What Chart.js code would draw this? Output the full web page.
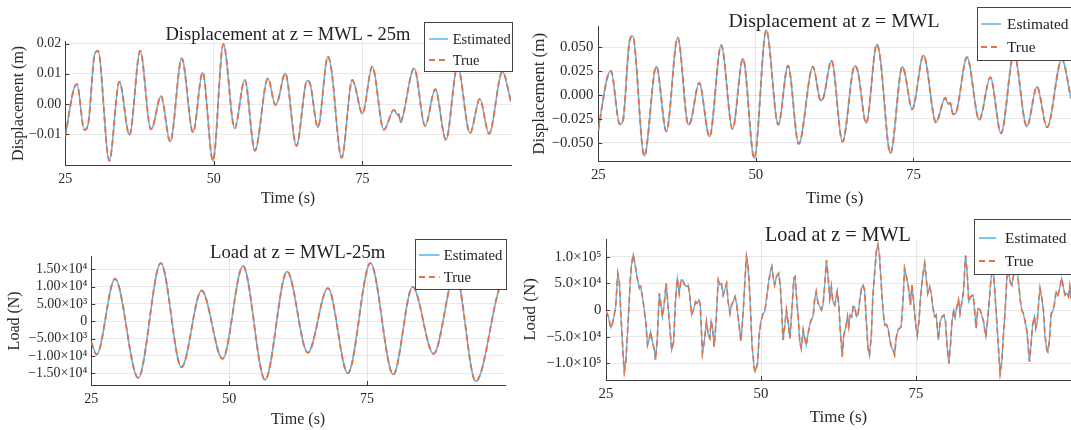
<!DOCTYPE html>
<html><head><meta charset="utf-8">
<script src="https://cdn.jsdelivr.net/npm/chart.js@4.4.1/dist/chart.umd.min.js"></script>
<style>
html,body{margin:0;padding:0;background:#fff;}
body{width:1071px;height:430px;position:relative;overflow:hidden;font-family:"Liberation Serif","DejaVu Serif",serif;}
canvas{position:absolute;}
.title{position:absolute;transform:translate(-50%,-50%);white-space:nowrap;color:#222;z-index:3;}
.legend{position:absolute;background:#fff;border:1px solid #444;box-sizing:border-box;z-index:4;}
.legend .row{position:absolute;left:0;height:0;width:100%;}
.legend .txt{position:absolute;transform:translateY(-50%);color:#222;white-space:nowrap;line-height:1;}
.legend svg{position:absolute;overflow:visible;}
</style></head><body>
<script>
// ---------- DATA ----------
const xTicks = [25, 50, 75];

const p1Time = [25.0,26.4,26.95,28.2,28.85,29.95,30.5,32.4,34.1,35.8,37.6,39.4,39.75,41.1,42.65,44.6,46.5,48.1,49.85,51.6,53.5,55.2,56.9,59.1,60.35,60.8,62.0,63.9,65.7,66.25,67.5,69.2,69.75,71.5,73.3,73.7,75.0,76.65,78.6,80.3,80.9,81.1,81.4,81.7,83.7,85.55,87.25,89.05,91.0,93.1,94.75,96.3,98.55,100.0];
const p1Disp = [-0.0107,0.0048,0.0066,-0.0085,-0.0065,0.0165,0.0176,-0.0187,0.0074,-0.0102,0.0176,-0.0083,-0.0073,0.0027,-0.0124,0.0151,-0.0094,0.0105,-0.0187,0.0198,-0.008,0.008,-0.0154,0.0085,-0.0003,0.0012,0.0102,-0.0138,0.0078,0.0063,-0.0077,0.0157,0.0118,-0.0177,0.008,0.0063,-0.0032,0.0124,-0.0085,-0.0019,-0.0036,-0.0033,-0.006,-0.0048,0.0118,-0.0072,0.0049,-0.0118,0.0125,-0.0096,0.0017,-0.0098,0.0107,0.0008];
const p1YTicks = [-0.01, 0, 0.01, 0.02];
const p1YLabels = ['\u22120.01','0.00','0.01','0.02'];

const p2Time = [25.0,26.4,27.0,28.4,28.9,29.95,30.45,32.3,34.2,35.8,37.6,39.3,39.7,41.0,42.65,44.5,46.3,47.95,49.75,51.65,53.55,55.1,56.8,59.05,60.3,60.75,62.0,63.75,65.7,66.2,67.5,69.2,69.7,71.35,73.25,73.6,74.8,76.6,78.6,78.95,80.05,80.5,80.8,81.3,81.7,83.5,85.45,87.2,88.9,90.95,93.0,94.6,96.2,98.55,100.0];
const p2Disp = [-0.0365,0.0174,0.025,-0.0305,-0.027,0.056,0.0615,-0.0635,0.030,-0.038,0.060,-0.031,-0.027,0.0128,-0.0434,0.052,-0.0354,0.038,-0.066,0.0677,-0.031,0.0305,-0.051,0.0295,-0.006,-0.002,0.036,-0.0486,0.0305,0.024,-0.0295,0.053,0.040,-0.0607,0.0295,0.024,-0.0149,0.0415,-0.0288,-0.024,-0.0028,-0.0094,-0.008,-0.0201,-0.019,0.0393,-0.026,0.0184,-0.040,0.043,-0.033,0.0087,-0.0337,0.0372,-0.0034];
const p2YTicks = [-0.05, -0.025, 0, 0.025, 0.05];
const p2YLabels = ['\u22120.050','\u22120.025','0.000','0.025','0.050'];

const p3Time = [25.0,25.95,29.3,33.5,37.6,41.35,45.0,48.8,52.5,56.5,60.5,64.25,67.9,71.5,75.6,79.75,83.25,87.05,91.0,94.7,99.8,100.0];
const p3Load = [-6000,-9600,12250,-16360,16760,-13290,8870,-10870,15900,-16940,14360,-9130,9540,-15030,16760,-15400,9900,-9420,14000,-17340,11500,11400];
const p3YTicks = [-15000,-10000,-5000,0,5000,10000,15000];
const p3YLabels = ['\u22121.50\u00d710\u2074','\u22121.00\u00d710\u2074','\u22125.00\u00d710\u00b3','0','5.00\u00d710\u00b3','1.00\u00d710\u2074','1.50\u00d710\u2074'];

const p4Time = [25.0,25.4,25.75,26.0,26.55,26.9,27.15,27.4,27.8,27.95,28.2,28.6,28.9,29.1,29.4,29.7,30.05,30.4,30.6,31.0,
31.4,31.7,32.0,32.2,32.5,32.8,33.0,33.3,33.6,33.8,34.1,34.4,34.7,34.95,35.3,35.6,35.9,36.2,36.5,36.8,
37.1,37.35,37.7,38.05,38.25,38.5,38.8,39.1,39.45,39.7,40.0,40.2,40.4,40.55,40.85,41.2,41.5,41.75,41.95,42.2,
42.45,42.75,43.1,43.35,43.6,43.9,44.2,44.45,44.7,45.0,45.25,45.5,45.8,46.05,46.4,46.75,47.1,47.4,47.65,47.9,
48.2,48.55,48.9,49.05,49.45,49.7,50.0,50.35,50.6,50.9,51.25,51.5,51.75,51.95,52.2,52.5,52.85,53.1,53.3,53.55,
53.85,54.1,54.4,54.65,55.0,55.3,55.5,55.7,56.0,56.25,56.5,56.8,57.05,57.3,57.6,57.85,58.1,58.4,58.65,58.9,
59.2,59.5,59.75,60.0,60.3,60.55,60.8,61.1,61.35,61.6,61.9,62.3,62.55,62.8,63.1,63.35,63.7,63.95,64.15,64.4,
64.65,64.85,65.1,65.4,65.65,65.9,66.2,66.45,66.7,67.0,67.25,67.5,67.8,68.05,68.35,68.6,68.85,69.1,69.4,69.7,
69.95,70.2,70.5,70.75,71.0,71.3,71.55,71.8,72.1,72.35,72.6,72.9,73.15,73.4,73.8,74.1,74.35,74.6,74.9,75.2,
75.5,75.75,76.1,76.4,76.65,76.9,77.2,77.45,77.7,78.0,78.26,78.6,78.9,79.2,79.5,79.76,80.0,80.3,80.6,80.8,
81.1,81.3,81.6,81.86,82.1,82.4,82.66,82.99,83.25,83.5,83.8,84.2,84.4,84.7,84.97,85.35,85.6,85.9,86.26,86.5,
86.85,87.1,87.45,87.9,88.3,88.57,88.84,89.1,89.4,89.65,89.9,90.2,90.45,90.9,91.4,91.85,92.06,92.3,92.6,92.9,
93.3,93.55,93.8,94.1,94.3,94.55,94.8,95.0,95.3,95.55,95.8,96.1,96.25,96.5,96.8,97.05,97.3,97.6,97.9,98.1,
98.5,98.8,99.04,99.3,99.6,99.8,100.0];
const p4Load = [-2000,-12500,-33000,-28000,4400,68750,53000,-9400,-90600,-115600,-96900,-15600,53000,84000,104000,84000,59400,40600,43700,15600,
-21900,-65600,-53000,-40600,-59400,-75000,-93700,-46900,31200,15600,-12500,12500,50000,15600,-34400,-75000,-59400,15600,59400,31200,
56200,56200,46900,43700,46900,28100,-9400,0,15600,12500,18800,9400,-40600,-81250,-59400,-21900,-46900,-53100,-20600,-34400,
-68700,-21900,56200,46900,50000,28100,40600,50000,15600,-6250,9400,15600,25000,12500,-21900,-58100,-9400,53100,100000,84400,
30000,-65600,-108000,-116000,-100000,-46900,-20600,-6250,-3100,21900,53100,71900,81250,62500,46900,62500,68750,46900,9400,-56200,
-28100,0,-25000,-53100,3100,59400,62500,28100,-12500,-59400,-71900,-37500,-53100,-65600,-43700,-28100,-18700,-12500,18700,34400,
12500,6250,0,9400,50000,93750,65600,21900,43700,15600,9400,34400,9400,-40600,-87500,-46900,-31200,-12500,-31200,-9400,
-12500,6250,6250,-12500,-9400,15600,40600,46900,37500,-21900,-71900,-84400,-46900,28100,71900,109400,121900,103000,46900,-3100,
-28100,-26900,-34400,-53100,-68700,-75000,-84400,-53100,-37500,-34400,-31200,15600,78100,66000,40600,9400,46900,18700,-21900,-46900,
-18700,28100,65600,87500,59400,31200,43700,31200,6250,-12500,-9400,-56200,-21900,-12500,-9400,-21900,-65600,-100000,-59400,-21900,
0,-12500,6250,18700,-6250,15600,34400,101900,71900,15600,25000,28100,6250,-34400,3100,0,-9400,-21900,-50000,-25000,
21900,59400,80000,3100,-71900,-118750,-96900,-46900,3100,59400,75000,53000,46900,75000,65600,15600,0,-6250,-21900,-40600,
-96900,-65600,-28100,-12500,-34400,-21900,15600,40600,21900,0,-46900,-75000,-78100,-59400,-6250,-3100,9400,34400,28100,37500,
59400,40600,28100,31200,25000,43700,22000];
const p4YTicks = [-100000,-50000,0,50000,100000];
const p4YLabels = ['\u22121.0\u00d710\u2075','\u22125.0\u00d710\u2074','0','5.0\u00d710\u2074','1.0\u00d710\u2075'];

// ---------- STYLE ----------
const BLUE = '#55B4EE', ORANGE = '#E2744C', GRID = 'rgba(0,0,0,0.09)', AXIS = '#3c3c3c', TXT = '#2a2a2a';
const FONT = '"Liberation Serif", "DejaVu Serif", serif';
const DASH = [6, 4];
Chart.defaults.font.family = FONT;

const innerTicks = {
  id: 'innerTicks',
  afterDatasetsDraw(chart) {
    const {ctx, chartArea: a, scales: {x, y}} = chart;
    ctx.save();
    ctx.strokeStyle = AXIS; ctx.lineWidth = 1;
    ctx.beginPath();
    x.ticks.forEach(t => { const px = Math.round(x.getPixelForValue(t.value)) + 0.5; ctx.moveTo(px, a.bottom); ctx.lineTo(px, a.bottom - 4); });
    y.ticks.forEach(t => { const py = Math.round(y.getPixelForValue(t.value)) + 0.5; ctx.moveTo(a.left, py); ctx.lineTo(a.left + 4, py); });
    ctx.stroke();
    ctx.restore();
  }
};

function makePanel(c) {
  const cv = document.createElement('canvas');
  cv.width = c.cw; cv.height = c.ch;
  cv.style.left = c.cx + 'px'; cv.style.top = c.cy + 'px';
  cv.style.width = c.cw + 'px'; cv.style.height = c.ch + 'px';
  document.body.appendChild(cv);
  const pts = c.time.map((t, i) => ({x: t, y: c.values[i]}));
  const mode = c.smooth ? 'monotone' : 'default';
  const tickFont = {size: 14 * c.fs, family: FONT};
  const axisFont = {size: 16 * c.fs, family: FONT};
  new Chart(cv, {
    type: 'line',
    data: {datasets: [
      {label: 'Estimated', data: pts, borderColor: BLUE, borderWidth: c.bw, pointRadius: 0, fill: false, order: 1, tension: 0, cubicInterpolationMode: mode},
      {label: 'True', data: pts, borderColor: ORANGE, borderWidth: c.tw, borderDash: DASH, pointRadius: 0, fill: false, order: 0, tension: 0, cubicInterpolationMode: mode}
    ]},
    options: {
      responsive: false, animation: false, devicePixelRatio: 1,
      layout: {padding: {left: 0, top: c.plotT - c.cy, right: c.cx + c.cw - c.plotR, bottom: 0}},
      plugins: {legend: {display: false}, title: {display: false}, tooltip: {enabled: false}},
      scales: {
        x: {
          type: 'linear', min: 25, max: 100,
          afterBuildTicks: s => { s.ticks = xTicks.map(v => ({value: v})); },
          afterFit: s => { s.height = c.cy + c.ch - c.plotB; },
          ticks: {autoSkip: false, maxRotation: 0, padding: c.xtpad, color: TXT, font: tickFont, callback: v => String(v)},
          grid: {color: GRID, drawTicks: false, lineWidth: 1},
          border: {color: AXIS, width: 1},
          title: {display: true, text: 'Time (s)', color: TXT, font: axisFont, padding: {top: 0, bottom: c.xtitle}}
        },
        y: {
          type: 'linear', min: c.ymin, max: c.ymax,
          afterBuildTicks: s => { s.ticks = c.yticks.map(v => ({value: v})); },
          afterFit: s => { s.width = c.plotL - c.cx; },
          ticks: {autoSkip: false, padding: c.ytpad, color: TXT, font: tickFont,
                  callback: v => { const i = c.yticks.indexOf(v); return i >= 0 ? c.ylabels[i] : ''; }},
          grid: {color: GRID, drawTicks: false, lineWidth: 1},
          border: {color: AXIS, width: 1},
          title: {display: true, text: c.ytitle, color: TXT, font: axisFont, padding: {top: c.ytitlePad, bottom: 0}}
        }
      }
    },
    plugins: [innerTicks]
  });
}

function addTitle(text, x, y, size) {
  const d = document.createElement('div');
  d.className = 'title'; d.textContent = text;
  d.style.left = x + 'px'; d.style.top = y + 'px'; d.style.fontSize = size + 'px';
  document.body.appendChild(d);
}

function addLegend(l) {
  const box = document.createElement('div');
  box.className = 'legend';
  box.style.left = l.left + 'px'; box.style.top = l.top + 'px';
  box.style.width = l.w + 'px'; box.style.height = l.h + 'px';
  const rows = [['Estimated', BLUE, null, 1.5], ['True', ORANGE, DASH.join(' '), 2]];
  rows.forEach((r, i) => {
    const row = document.createElement('div');
    row.className = 'row'; row.style.top = l.rows[i] + 'px';
    const svg = document.createElementNS('http://www.w3.org/2000/svg', 'svg');
    svg.setAttribute('width', l.sw); svg.setAttribute('height', 2);
    svg.style.left = l.sx + 'px'; svg.style.top = '-1px';
    const ln = document.createElementNS('http://www.w3.org/2000/svg', 'line');
    ln.setAttribute('x1', 0); ln.setAttribute('x2', l.sw); ln.setAttribute('y1', 1); ln.setAttribute('y2', 1);
    ln.setAttribute('stroke', r[1]); ln.setAttribute('stroke-width', r[3]);
    if (r[2]) ln.setAttribute('stroke-dasharray', r[2]);
    svg.appendChild(ln);
    const t = document.createElement('div');
    t.className = 'txt'; t.textContent = r[0]; t.style.left = l.tx + 'px'; t.style.fontSize = l.fsz + 'px';
    row.appendChild(svg); row.appendChild(t);
    box.appendChild(row);
  });
  document.body.appendChild(box);
}

// ---------- PANELS ----------
makePanel({cx: 0, cy: 0, cw: 520, ch: 210, plotL: 65.3, plotR: 511, plotT: 41.7, plotB: 165, fs: 1,
  time: p1Time, values: p1Disp, ymin: -0.0201, ymax: 0.0206, yticks: p1YTicks, ylabels: p1YLabels,
  ytitle: 'Displacement (m)', ytitlePad: 9.2, xtitle: 1.4, xtpad: 5.5, ytpad: 4, bw: 1.5, tw: 1.9, smooth: true});
makePanel({cx: 520, cy: 0, cw: 551, ch: 210, plotL: 598.3, plotR: 1071, plotT: 26, plotB: 161.7, fs: 1.06,
  time: p2Time, values: p2Disp, ymin: -0.0695, ymax: 0.0719, yticks: p2YTicks, ylabels: p2YLabels,
  ytitle: 'Displacement (m)', ytitlePad: 9.2, xtitle: 0.8, xtpad: 5, ytpad: 5, bw: 1.5, tw: 1.9, smooth: true});
makePanel({cx: 0, cy: 210, cw: 520, ch: 220, plotL: 91.3, plotR: 505, plotT: 256.7, plotB: 385, fs: 1,
  time: p3Time, values: p3Load, ymin: -18400, ymax: 18600, yticks: p3YTicks, ylabels: p3YLabels,
  ytitle: 'Load (N)', ytitlePad: 5.4, xtitle: 1.1, xtpad: 6, ytpad: 4, bw: 1.5, tw: 1.9, smooth: true});
makePanel({cx: 520, cy: 210, cw: 551, ch: 220, plotL: 606, plotR: 1071, plotT: 239, plotB: 380, fs: 1.06,
  time: p4Time, values: p4Load, ymin: -131200, ymax: 133100, yticks: p4YTicks, ylabels: p4YLabels,
  ytitle: 'Load (N)', ytitlePad: 0.5, xtitle: 1.8, xtpad: 5.5, ytpad: 4.5, bw: 1.3, tw: 1.7, smooth: false});

addTitle('Displacement at z = MWL - 25m', 288, 34.3, 18.5);
addTitle('Displacement at z = MWL', 834, 20, 19.8);
addTitle('Load at z = MWL-25m', 297.7, 251.7, 18.8);
addTitle('Load at z = MWL', 838, 234, 20.2);

addLegend({left: 424, top: 22, w: 89, h: 50, rows: [15.7, 37], sx: 3.7, sw: 19, tx: 27.7, fsz: 14.5});
addLegend({left: 977, top: 7, w: 120, h: 54, rows: [16.3, 39], sx: 3, sw: 20, tx: 29, fsz: 15.4});
addLegend({left: 415.3, top: 239, w: 91.4, h: 51, rows: [15, 36.7], sx: 2.4, sw: 20.6, tx: 27.4, fsz: 14.7});
addLegend({left: 974, top: 219, w: 120, h: 56, rows: [18, 41], sx: 4, sw: 17, tx: 30, fsz: 15.4});
</script>
</body></html>
